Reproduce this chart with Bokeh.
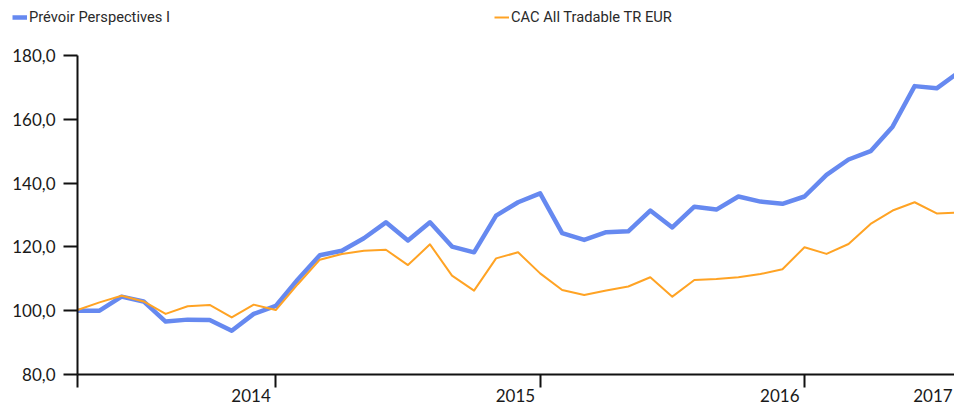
from bokeh.plotting import figure
from bokeh.models import Legend, FixedTicker, LabelSet, Range1d, ColumnDataSource
from bokeh.core.properties import value
from bokeh.embed import file_html
from bokeh.resources import INLINE

# month index (end of month, 0 = Mar 2013)
months = list(range(41))
prevoir = [100.0, 100.0, 104.4, 102.9, 96.6, 97.2, 97.1, 93.7, 99.0, 101.5,
           109.8, 117.4, 118.8, 122.7, 127.7, 122.0, 127.7, 120.1, 118.3, 129.8,
           134.0, 136.8, 124.3, 122.2, 124.6, 124.9, 131.4, 126.1, 132.6, 131.7,
           135.8, 134.2, 133.5, 135.8, 142.6, 147.4, 150.0, 157.7, 170.4, 169.7,
           174.7]
cac = [100.2, 102.6, 104.7, 102.9, 99.0, 101.4, 101.8, 97.9, 101.9, 100.2,
       108.3, 116.0, 117.8, 118.8, 119.1, 114.3, 120.8, 111.0, 106.3, 116.4,
       118.3, 111.7, 106.5, 104.9, 106.3, 107.6, 110.5, 104.4, 109.6, 109.9,
       110.5, 111.5, 113.0, 119.9, 117.8, 120.9, 127.2, 131.4, 134.0, 130.5,
       130.8]
x_ticks = [0, 9, 21, 33]
year_positions = [9, 21, 33, 39.95]
year_labels = ["2014", "2015", "2016", "2017"]
y_ticks = [80, 100, 120, 140, 160, 180]
y_labels = ["80,0", "100,0", "120,0", "140,0", "160,0", "180,0"]
series_names = ["Prévoir Perspectives I", "CAC All Tradable TR EUR"]

BLUE = "#6689F0"
ORANGE = "#FFA324"
TXT = "#1a1a1a"
AXC = "#111111"

W, H = 954, 405
PX_PER_MONTH = 22.03
PX_PER_UNIT = 3.19
LEFT, TOP, BOTTOM = 77, 55, 374

x0 = -LEFT / PX_PER_MONTH
x1 = (W - LEFT) / PX_PER_MONTH
y1 = 180 + TOP / PX_PER_UNIT
y0 = 80 - (H - BOTTOM) / PX_PER_UNIT

p = figure(width=W, height=H, output_backend="svg", toolbar_location=None,
           x_range=Range1d(x0, x1), y_range=Range1d(y0, y1),
           min_border_left=0, min_border_right=0, min_border_top=0,
           min_border_bottom=0)
p.outline_line_color = None
p.xgrid.visible = False
p.ygrid.visible = False
p.background_fill_color = "white"
p.border_fill_color = "white"

r1 = p.line(months, prevoir, line_color=BLUE, line_width=4.5, line_join="round")
r2 = p.line(months, cac, line_color=ORANGE, line_width=2, line_join="round")

# y axis
ya = p.yaxis[0]
ya.fixed_location = 0
ya.bounds = (80, 180)
ya.ticker = FixedTicker(ticks=y_ticks)
ya.major_label_overrides = {t: l for t, l in zip(y_ticks, y_labels)}
ya.axis_line_color = AXC
ya.axis_line_width = 2
ya.major_tick_line_color = AXC
ya.major_tick_line_width = 2
ya.major_tick_out = 14
ya.major_tick_in = 0
ya.minor_tick_line_color = None
ya.major_label_text_font = "Lato"
ya.major_label_text_font_size = "17px"
ya.major_label_text_color = TXT
ya.major_label_standoff = 8

# x axis (ticks only; year labels drawn right-aligned to the ticks)
xa = p.xaxis[0]
xa.fixed_location = 80
xa.bounds = (0, x1)
xa.ticker = FixedTicker(ticks=x_ticks)
xa.major_label_overrides = {t: "" for t in x_ticks}
xa.axis_line_color = AXC
xa.axis_line_width = 2
xa.major_tick_line_color = AXC
xa.major_tick_line_width = 2
xa.major_tick_out = 13
xa.major_tick_in = 0
xa.minor_tick_line_color = None

years_src = ColumnDataSource(dict(x=year_positions, y=[80] * len(year_positions),
                                  text=year_labels))
p.add_layout(LabelSet(x="x", y="y", text="text", source=years_src,
                      x_offset=-5, y_offset=-27, text_align="right",
                      text_baseline="alphabetic", text_font=value("Lato"),
                      text_font_size=value("17px"), text_color=TXT))

legend = Legend(items=[(series_names[0], [r1]), (series_names[1], [r2])],
                orientation="horizontal", location=(12, 379),
                padding=0, margin=0, spacing=0, glyph_width=15, glyph_height=16,
                label_standoff=2, label_width=465, label_height=16,
                border_line_color=None, background_fill_alpha=0,
                label_text_font="Roboto",
                label_text_font_size="14.7px", label_text_color="#2a2a2a")
p.add_layout(legend, "center")

open("out.html", "w").write(file_html(p, INLINE))
